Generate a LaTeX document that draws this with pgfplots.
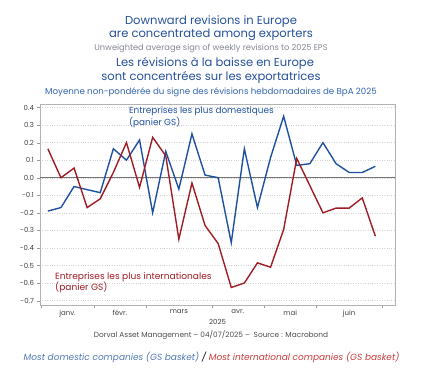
\documentclass[border=0pt]{standalone}
\usepackage{pgfplots}
\pgfplotsset{compat=1.18}
\usepackage{fontspec}
\setmainfont{Poppins}
\definecolor{tblue}{RGB}{36,80,155}
\definecolor{sblue}{RGB}{50,100,175}
\definecolor{tgrey}{RGB}{130,135,145}
\definecolor{lblue}{RGB}{30,80,160}
\definecolor{lred}{RGB}{160,28,36}
\definecolor{iblue}{RGB}{80,120,180}
\definecolor{ired}{RGB}{200,60,60}
\pgfplotstableread{
i dom intl
0 -0.19 0.165
1 -0.17 0.0
2 -0.05 0.055
3 -0.068 -0.17
4 -0.085 -0.12
5 0.165 0.03
6 0.10 0.20
7 0.215 -0.055
8 -0.20 0.23
9 0.15 0.125
10 -0.065 -0.35
11 0.25 -0.03
12 0.015 -0.272
13 0.0 -0.375
14 -0.37 -0.625
15 0.165 -0.60
16 -0.17 -0.485
17 0.115 -0.51
18 0.35 -0.295
19 0.07 0.11
20 0.08 -0.045
21 0.20 -0.20
22 0.08 -0.173
23 0.03 -0.173
24 0.03 -0.115
25 0.065 -0.333
}\data
\begin{document}
\begin{tikzpicture}[x=1bp,y=1bp]
\useasboundingbox (0,0) rectangle (426,376);
% titles
\node[tblue,font=\fontsize{11.6}{12}\selectfont] at (211,376-21.5) {Downward revisions in Europe};
\node[tblue,font=\fontsize{11.6}{12}\selectfont] at (211,376-35) {are concentrated among exporters};
\node[tgrey,font=\fontsize{8.3}{9}\selectfont] at (211,376-48.7) {Unweighted average sign of weekly revisions to 2025 EPS};
\node[tblue,font=\fontsize{11.6}{12}\selectfont] at (215,376-63.7) {Les révisions à la baisse en Europe};
\node[tblue,font=\fontsize{11.6}{12}\selectfont] at (211,376-77) {sont concentrées sur les exportatrices};
\node[sblue,font=\fontsize{8.7}{9}\selectfont] at (211,376-92) {Moyenne non-pondérée du signe des révisions hebdomadaires de BpA 2025};
\begin{axis}[
  at={(40bp,71bp)}, anchor=south west,
  scale only axis, width=355bp, height=201bp,
  xmin=-0.6, xmax=26.5, ymin=-0.725, ymax=0.42,
  axis line style={draw=gray!60},
  ytick={-0.7,-0.6,-0.5,-0.4,-0.3,-0.2,-0.1,0,0.1,0.2,0.3,0.4},
  ytick pos=left, xtick pos=bottom,
  tick align=outside,
  major tick length=2.5bp,
  minor tick length=3bp,
  ymajorgrids, grid style={dotted, gray!35},
  extra y ticks={0}, extra y tick labels={},
  extra y tick style={grid style={solid, gray!90!black, line width=0.7pt}, major tick length=0pt},
  yticklabel style={font=\fontsize{7}{7}\selectfont, text=black!75},
  /pgf/number format/.cd, fixed, fixed zerofill, precision=1, assume math mode=true,
  /pgfplots/.cd,
  xtick={1.5,5.5,10,14.5,18.5,23},
  xticklabels={janv., févr., mars, avr., mai, juin},
  x tick style={draw=none},
  minor xtick={-0.5,3.5,7.5,12.5,16.5,20.5,25.5},
  minor x tick style={draw=gray!80},
  y tick style={draw=gray!80},
  xticklabel style={font=\fontsize{7}{7}\selectfont, text=black!75, yshift=1bp},
  xlabel={2025}, xlabel style={font=\fontsize{7}{7}\selectfont, text=black!75, yshift=5bp},
  clip=false,
]
\addplot[lblue, line width=1.4pt] table[x=i,y=dom]{\data};
\addplot[lred, line width=1.4pt] table[x=i,y=intl]{\data};
\end{axis}
\node[lblue,font=\fontsize{8.9}{10}\selectfont,align=left,anchor=north west,inner sep=0pt] at (129,376-107) {Entreprises les plus domestiques\\(panier GS)};
\node[lred,font=\fontsize{9.1}{10}\selectfont,align=left,anchor=north west,inner sep=0pt] at (55,376-272) {Entreprises les plus internationales\\(panier GS)};
\node[black!70,font=\fontsize{7.4}{8}\selectfont] at (211,376-334.7) {Dorval Asset Management – 04/07/2025 –\enspace Source : Macrobond};
\node[font=\fontsize{9}{9}\selectfont\itshape] at (211.5,376-357.7) {\textcolor{iblue}{Most domestic companies (GS basket)} / \textcolor{ired}{Most international companies (GS basket)}};
\end{tikzpicture}
\end{document}
